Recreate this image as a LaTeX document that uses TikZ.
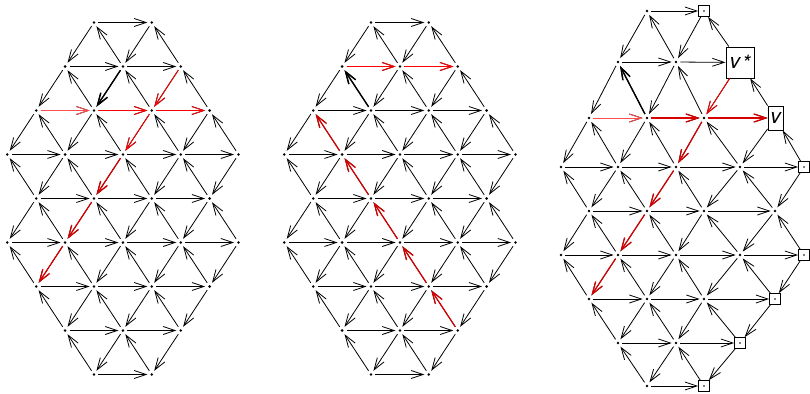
\documentclass[tikz,border=0pt]{standalone}
\usepackage{amsmath}
\usepackage{fontspec}
\newfontfamily\labelfont{TeX Gyre Heros}
\usetikzlibrary{arrows.meta}

\begin{document}
\begin{tikzpicture}[
  x=1pt, y=-1pt, line width=0.8pt,
  >={Straight Barb[length=12pt, width=8pt]},
  site/.style  = {circle, fill, inner sep=0pt, minimum size=2.8pt, outer sep=3pt},
  bdry/.style  = {draw, rectangle, line width=0.7pt, inner sep=0pt, minimum size=11pt,
                  path picture={\fill (path picture bounding box.center) circle (0.9pt);}},
  tag/.style   = {draw, rectangle, line width=0.9pt, inner sep=1pt,
                  font=\labelfont\itshape\fontsize{21}{24}\selectfont},
  link/.style  = {->},
  hot/.style   = {->, red, line width=0.9pt},
  pale/.style  = {->, red!70, line width=0.9pt},
  deep/.style  = {->, red!85!black, line width=1.2pt},
  heavy/.style = {->, line width=1.4pt},
]
  \useasboundingbox (0,0) rectangle (810,393);

  \def\hexrows{0/{3,5}, 1/{2,4,6}, 2/{1,3,5,7}, 3/{0,2,4,6,8}, 4/{1,3,5,7},
               5/{0,2,4,6,8}, 6/{1,3,5,7}, 7/{2,4,6}, 8/{3,5}}

  % first two panels: regular lattice
  \foreach \p/\xo in {a/7.3, b/284.3}
    \foreach \row/\cols in \hexrows
      \foreach \col in \cols
        \node[site] (\p-\row-\col) at (\xo+28.9*\col, 22.5+44*\row) {};

  % third panel: columns and rows stretched by the labelled boxes
  \def\cx{{561,589,618,647,676,704,740,775,804}}
  \def\ry{{11,62,118,167,211,255,299,343,386}}
  \foreach \row/\cols in {0/{3}, 1/{2,4}, 2/{1,3,5}, 3/{0,2,4,6}, 4/{1,3,5,7},
                          5/{0,2,4,6}, 6/{1,3,5}, 7/{2,4}, 8/{3}}
    \foreach \col in \cols {
      \pgfmathsetmacro\px{\cx[\col]}
      \pgfmathsetmacro\py{\ry[\row]}
      \node[site] (c-\row-\col) at (\px,\py) {};
    }
  \foreach \row/\col in {0/5, 3/8, 5/8, 6/7, 7/6, 8/5} {
    \pgfmathsetmacro\px{\cx[\col]}
    \pgfmathsetmacro\py{\ry[\row]}
    \node[bdry] (c-\row-\col) at (\px,\py) {};
  }
  \node[tag, minimum width=28pt, minimum height=31pt] (c-1-6) at (740,62.5) {v\kern2pt\raisebox{-0.15ex}{*}};
  \node[tag, minimum width=15pt, minimum height=24pt] (c-2-7) at (775.5,118) {v};

  % all lattice edges: east, south-west, north-west
  \foreach \p in {a,b,c}
    \foreach \row/\cols in \hexrows
      \foreach \col in \cols {
        \pgfmathtruncatemacro\cc{\col+2}
        \pgfmathtruncatemacro\cl{\col-1}
        \pgfmathtruncatemacro\cu{\col+1}
        \pgfmathtruncatemacro\rr{\row+1}
        \ifcsname pgf@sh@ns@\p-\row-\cc\endcsname
          \draw[link] (\p-\row-\col) -- (\p-\row-\cc);
        \fi
        \ifcsname pgf@sh@ns@\p-\rr-\cl\endcsname
          \draw[link] (\p-\row-\col) -- (\p-\rr-\cl);
        \fi
        \ifcsname pgf@sh@ns@\p-\rr-\cu\endcsname
          \draw[link] (\p-\rr-\cu) -- (\p-\row-\col);
        \fi
      }

  % first panel
  \draw[pale]  (a-2-1) -- (a-2-3);
  \draw[hot]   (a-2-3) -- (a-2-5);
  \draw[hot]   (a-2-5) -- (a-2-7);
  \draw[hot]   (a-1-6) -- (a-2-5);
  \draw[hot]   (a-2-5) -- (a-3-4);
  \draw[deep]  (a-3-4) -- (a-4-3);
  \draw[deep]  (a-4-3) -- (a-5-2);
  \draw[deep]  (a-5-2) -- (a-6-1);
  \draw[heavy] (a-1-4) -- (a-2-3);

  % second panel
  \draw[hot]   (b-1-2) -- (b-1-4);
  \draw[hot]   (b-1-4) -- (b-1-6);
  \draw[deep]  (b-7-6) -- (b-6-5);
  \draw[deep]  (b-6-5) -- (b-5-4);
  \draw[deep]  (b-5-4) -- (b-4-3);
  \draw[deep]  (b-4-3) -- (b-3-2);
  \draw[deep]  (b-3-2) -- (b-2-1);
  \draw[heavy] (b-2-3) -- (b-1-2);

  % third panel
  \draw[pale]  (c-2-1) -- (c-2-3);
  \draw[deep]  (c-2-3) -- (c-2-5);
  \draw[deep]  (c-2-5) -- (c-2-7);
  \draw[hot]   (c-1-6) -- (c-2-5);
  \draw[deep]  (c-2-5) -- (c-3-4);
  \draw[deep]  (c-3-4) -- (c-4-3);
  \draw[deep]  (c-4-3) -- (c-5-2);
  \draw[deep]  (c-5-2) -- (c-6-1);
  \draw[heavy] (c-2-3) -- (c-1-2);
\end{tikzpicture}
\end{document}
